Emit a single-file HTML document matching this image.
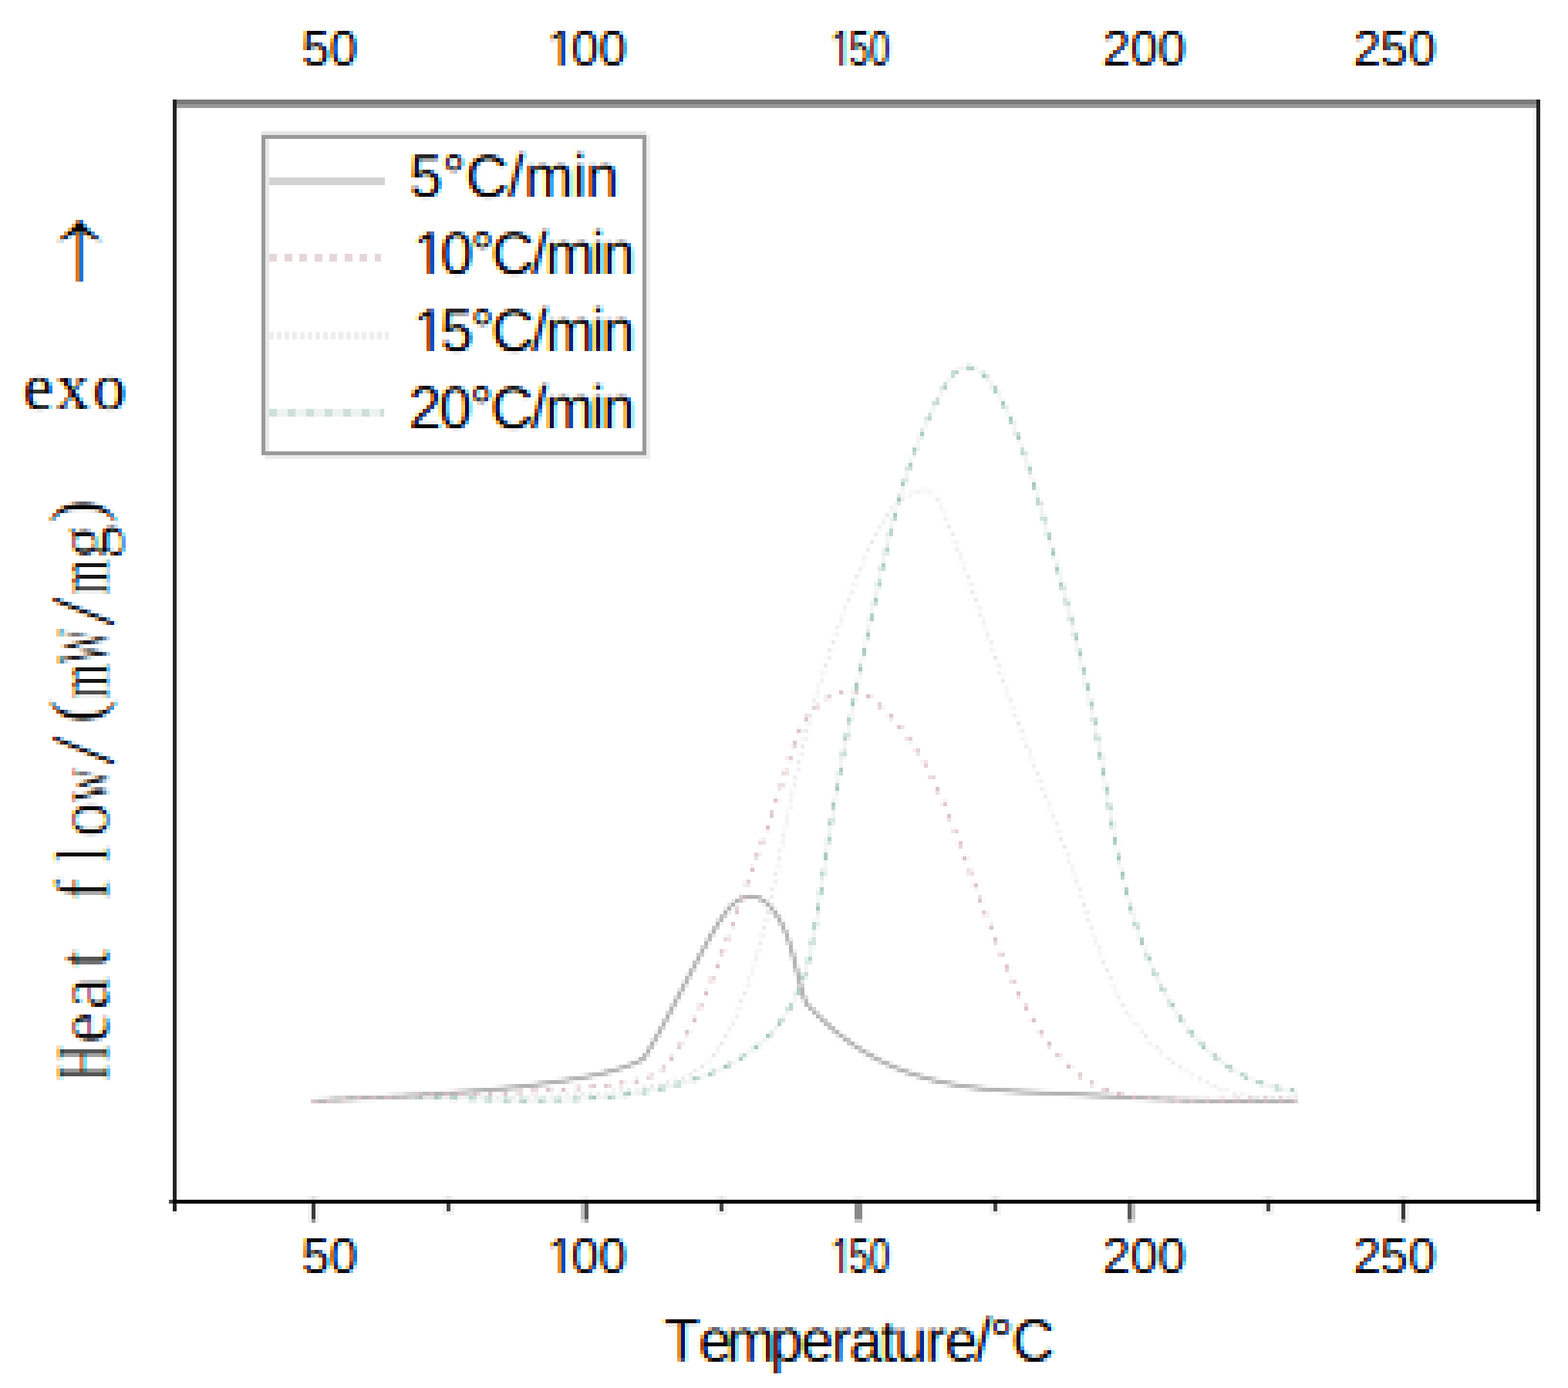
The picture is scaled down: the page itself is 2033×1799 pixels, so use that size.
<!DOCTYPE html>
<html lang="en">
<head>
<meta charset="utf-8">
<title>Heat flow vs temperature</title>
<style>
html,body{margin:0;padding:0;background:#fff;overflow:hidden;}
body{width:2033px;height:1799px;position:relative;}
svg{display:block;position:absolute;left:0;top:0;}
#hard,#curv,#text{position:absolute;left:0;top:0;width:2033px;height:1799px;overflow:hidden;}
#curv{filter:url(#pix);}
#text{filter:url(#pixct);mix-blend-mode:multiply;}
text{font-family:"Liberation Sans",sans-serif;fill:#000;}
.c{fill:none;stroke-linejoin:round;}
.ylab{position:absolute;left:58px;top:1400px;height:98px;white-space:pre;transform-origin:0 0;transform:rotate(-90deg);font:98px/98px "Liberation Serif",serif;color:#000;-webkit-text-stroke:1px #fff;}
.ylab span{display:inline-block;white-space:pre;}
.exo{position:absolute;left:30px;top:451px;font:87px/100px "Liberation Serif",serif;color:#000;white-space:nowrap;letter-spacing:4px;}
.arr{position:absolute;left:53px;top:208px;width:100px;height:240px;text-align:center;font:200px/240px "Liberation Serif","Noto Serif CJK SC",serif;color:#000;-webkit-text-stroke:4px #fff;transform:scaleX(1.24);clip-path:inset(0 0 83px 0);}
</style>
</head>
<body>
<svg width="0" height="0" aria-hidden="true">
<defs>
<filter id="pix" x="0" y="0" width="2033" height="1799" filterUnits="userSpaceOnUse" primitiveUnits="userSpaceOnUse" color-interpolation-filters="sRGB">
<feGaussianBlur in="SourceGraphic" stdDeviation="1.0" result="b"/>
<feFlood x="0" y="2" width="1" height="1" flood-color="#000" result="f"/>
<feComposite in="f" in2="f" operator="over" x="-2" y="0" width="5" height="5" result="c"/>
<feTile in="c" x="0" y="0" width="2033" height="1799" result="t"/>
<feComposite in="b" in2="t" operator="in" result="s"/>
<feMorphology in="s" operator="dilate" radius="2"/>
</filter>
<filter id="pixct" x="-20" y="-20" width="2073" height="1839" filterUnits="userSpaceOnUse" primitiveUnits="userSpaceOnUse" color-interpolation-filters="sRGB">
<feColorMatrix in="SourceGraphic" type="matrix" values="1 0 0 -1 1  0 1 0 -1 1  0 0 1 -1 1  0 0 0 0 1" result="w"/>
<feGaussianBlur in="w" stdDeviation="1.7 0.9" result="g"/>
<feOffset in="g" dx="1.67" dy="0" result="go"/>
<feColorMatrix in="go" type="matrix" values="1 0 0 0 0  0 0 0 0 0  0 0 0 0 0  0 0 0 0 1" result="r"/>
<feColorMatrix in="g" type="matrix" values="0 0 0 0 0  0 1 0 0 0  0 0 0 0 0  0 0 0 0 1" result="gg"/>
<feOffset in="g" dx="-1.67" dy="0" result="bo"/>
<feColorMatrix in="bo" type="matrix" values="0 0 0 0 0  0 0 0 0 0  0 0 1 0 0  0 0 0 0 1" result="bb"/>
<feComposite in="r" in2="gg" operator="arithmetic" k1="0" k2="1" k3="1" k4="0" result="rg"/>
<feComposite in="rg" in2="bb" operator="arithmetic" k1="0" k2="1" k3="1" k4="0" result="rgb"/>
<feFlood x="0" y="2" width="1" height="1" flood-color="#000" result="f"/>
<feComposite in="f" in2="f" operator="over" x="-2" y="0" width="5" height="5" result="c"/>
<feTile in="c" x="-20" y="-20" width="2073" height="1839" result="t"/>
<feComposite in="rgb" in2="t" operator="in" result="s"/>
<feMorphology in="s" operator="dilate" radius="2"/>
</filter>
</defs>
</svg>
<div id="hard">
<svg width="2033" height="1799" viewBox="0 0 2033 1799" shape-rendering="crispEdges">
<g id="frame">
<rect x="229" y="139" width="5" height="1416" fill="#f7f7f7"/>
<rect x="1987" y="139" width="5" height="1416" fill="#f7f7f7"/>
<rect x="224" y="129" width="1773" height="5.5" fill="#7a7a7a"/>
<rect x="224" y="134.5" width="1773" height="5" fill="#999"/>
<rect x="224" y="129" width="5" height="1441" fill="#222"/>
<rect x="224" y="1570" width="5" height="5" fill="#eee"/>
<rect x="1992" y="129" width="5" height="1441" fill="#222"/>
<rect x="1992" y="1570" width="5" height="5" fill="#eee"/>
<rect x="399" y="1550" width="15" height="35" fill="#f2f2f2"/>
<rect x="404" y="1550" width="5" height="5" fill="#e2e2e2"/>
<rect x="574" y="1550" width="15" height="25" fill="#f2f2f2"/>
<rect x="579" y="1550" width="5" height="5" fill="#e6e6e6"/>
<rect x="753.3" y="1550" width="5" height="5" fill="#f5f5f5"/>
<rect x="758.2" y="1550" width="5" height="5" fill="#eeeeee"/>
<rect x="928" y="1550" width="15" height="25" fill="#f2f2f2"/>
<rect x="933" y="1550" width="5" height="5" fill="#e6e6e6"/>
<rect x="1108" y="1550" width="10" height="5" fill="#f0f0f0"/>
<rect x="1283" y="1550" width="15" height="25" fill="#f2f2f2"/>
<rect x="1288" y="1550" width="5" height="5" fill="#e6e6e6"/>
<rect x="1462.3" y="1550" width="5" height="5" fill="#eeeeee"/>
<rect x="1467.3" y="1550" width="5" height="5" fill="#f5f5f5"/>
<rect x="1636.5" y="1550" width="15" height="25" fill="#f2f2f2"/>
<rect x="1641.5" y="1550" width="5" height="5" fill="#e6e6e6"/>
<rect x="1812" y="1550" width="15" height="35" fill="#f2f2f2"/>
<rect x="1817" y="1550" width="5" height="5" fill="#e2e2e2"/>
<rect x="219" y="1555" width="5" height="5" fill="#444"/>
<rect x="224" y="1555" width="1773" height="5" fill="#000"/>
<rect x="404" y="1560" width="5" height="20" fill="#3a3a3a"/>
<rect x="404" y="1580" width="5" height="5" fill="#999"/>
<rect x="579" y="1560" width="5" height="10" fill="#454545"/>
<rect x="579" y="1570" width="5" height="5" fill="#eee"/>
<rect x="753.3" y="1560" width="5" height="20" fill="#c0c0c0"/>
<rect x="753.3" y="1580" width="5" height="5" fill="#e0e0e0"/>
<rect x="758.2" y="1560" width="5" height="20" fill="#5a5a5a"/>
<rect x="758.2" y="1580" width="5" height="5" fill="#adadad"/>
<rect x="933" y="1560" width="5" height="10" fill="#454545"/>
<rect x="933" y="1570" width="5" height="5" fill="#eee"/>
<rect x="1108" y="1560" width="10" height="20" fill="#888"/>
<rect x="1108" y="1580" width="10" height="5" fill="#c6c6c6"/>
<rect x="1288" y="1560" width="5" height="10" fill="#454545"/>
<rect x="1288" y="1570" width="5" height="5" fill="#eee"/>
<rect x="1462.3" y="1560" width="5" height="20" fill="#5a5a5a"/>
<rect x="1462.3" y="1580" width="5" height="5" fill="#adadad"/>
<rect x="1467.3" y="1560" width="5" height="20" fill="#c0c0c0"/>
<rect x="1467.3" y="1580" width="5" height="5" fill="#e0e0e0"/>
<rect x="1641.5" y="1560" width="5" height="10" fill="#454545"/>
<rect x="1641.5" y="1570" width="5" height="5" fill="#eee"/>
<rect x="1817" y="1560" width="5" height="20" fill="#3a3a3a"/>
<rect x="1817" y="1580" width="5" height="5" fill="#999"/>
</g>
<g id="legendbox">
<rect x="339" y="170" width="499" height="5" fill="#e6e6e6"/>
<rect x="838" y="175" width="5" height="420" fill="#ececec"/>
<rect x="344" y="590" width="499" height="5" fill="#ececec"/>
<rect x="344" y="180" width="5" height="405" fill="#e8e8e8"/>
<rect x="339" y="175" width="499" height="5" fill="#9a9a9a"/>
<rect x="339" y="585" width="499" height="5" fill="#9a9a9a"/>
<rect x="339" y="175" width="5" height="415" fill="#9a9a9a"/>
<rect x="833" y="175" width="5" height="415" fill="#9a9a9a"/>
<rect x="349" y="229.5" width="150" height="10" fill="#d3d3d3"/>
<line x1="349" y1="334" x2="494" y2="334" stroke="#e6d6d9" stroke-width="10" stroke-dasharray="10 9.5"/>
<line x1="349" y1="434.5" x2="504" y2="434.5" stroke="#eeeef0" stroke-width="10" stroke-dasharray="6 4"/>
<line x1="349" y1="535" x2="498" y2="535" stroke="#edf3f0" stroke-width="10"/>
<line x1="349" y1="535" x2="498" y2="535" stroke="#cfe0d9" stroke-width="10" stroke-dasharray="10 14"/>
</g>
</svg>
</div>
<div id="curv">
<svg width="2033" height="1799" viewBox="0 0 2033 1799">
<g id="curves">
<path class="c" d="M404.6,1427.5 L412.6,1426.8 L420.6,1426.1 L428.6,1425.5 L436.6,1424.9 L444.5,1424.4 L452.5,1423.9 L460.3,1423.5 L468.2,1423.1 L476.1,1422.8 L483.9,1422.5 L491.7,1422.2 L499.5,1422.0 L507.3,1421.8 L515.1,1421.7 L522.8,1421.6 L530.6,1421.5 L538.3,1421.4 L546.0,1421.4 L553.7,1421.3 L561.4,1421.3 L569.1,1421.3 L576.8,1421.3 L584.5,1421.3 L592.2,1421.4 L599.8,1421.4 L607.5,1421.4 L615.2,1421.4 L622.8,1421.4 L630.5,1421.4 L638.2,1421.4 L645.8,1421.4 L653.5,1421.4 L661.2,1421.3 L668.8,1421.2 L676.5,1421.1 L684.2,1421.0 L691.9,1420.9 L699.6,1420.7 L707.3,1420.5 L715.1,1420.2 L722.8,1419.9 L730.5,1419.5 L738.3,1419.2 L746.1,1418.7 L753.9,1418.2 L761.7,1417.7 L769.5,1417.1 L777.4,1416.4 L785.2,1415.7 L793.1,1414.9 L801.0,1414.1 L809.0,1413.2 L816.9,1412.2 L824.9,1411.1 L832.9,1410.0 L840.9,1408.7 L848.7,1407.2 L856.5,1405.6 L864.2,1403.7 L871.7,1401.6 L879.0,1399.2 L886.1,1396.4 L892.9,1393.3 L899.4,1389.8 L905.6,1385.8 L911.4,1381.4 L916.9,1376.6 L922.0,1371.3 L926.8,1365.7 L931.3,1359.7 L935.5,1353.4 L939.5,1346.9 L943.3,1340.1 L946.8,1333.1 L950.2,1325.9 L953.4,1318.7 L956.4,1311.3 L959.3,1303.8 L962.1,1296.3 L964.9,1288.8 L967.5,1281.3 L970.1,1273.8 L972.5,1266.3 L974.9,1258.7 L977.3,1251.2 L979.5,1243.6 L981.7,1236.1 L983.8,1228.5 L985.9,1220.9 L987.9,1213.3 L989.8,1205.7 L991.7,1198.2 L993.5,1190.6 L995.3,1183.0 L997.1,1175.3 L998.8,1167.7 L1000.5,1160.1 L1002.1,1152.5 L1003.8,1144.9 L1005.3,1137.3 L1006.9,1129.7 L1008.5,1122.1 L1010.0,1114.4 L1011.5,1106.8 L1013.0,1099.2 L1014.5,1091.6 L1016.0,1084.0 L1017.5,1076.4 L1019.0,1068.8 L1020.5,1061.2 L1022.0,1053.6 L1023.5,1046.0 L1025.0,1038.5 L1026.6,1030.9 L1028.2,1023.3 L1029.8,1015.8 L1031.4,1008.2 L1033.0,1000.7 L1034.7,993.2 L1036.5,985.6 L1038.2,978.1 L1040.0,970.6 L1041.9,963.1 L1043.7,955.7 L1045.7,948.2 L1047.6,940.7 L1049.6,933.3 L1051.6,925.8 L1053.7,918.4 L1055.8,910.9 L1057.9,903.5 L1060.1,896.1 L1062.3,888.7 L1064.5,881.3 L1066.8,873.9 L1069.1,866.5 L1071.5,859.1 L1073.9,851.7 L1076.3,844.3 L1078.8,836.9 L1081.3,829.6 L1083.8,822.2 L1086.4,814.8 L1089.0,807.4 L1091.7,800.1 L1094.4,792.7 L1097.1,785.4 L1099.8,778.0 L1102.6,770.6 L1105.5,763.3 L1108.3,755.9 L1111.2,748.6 L1114.2,741.2 L1117.1,733.9 L1120.1,726.5 L1123.2,719.1 L1126.3,711.8 L1129.5,704.5 L1132.8,697.4 L1136.3,690.3 L1139.9,683.5 L1143.8,676.9 L1148.0,670.5 L1152.4,664.4 L1157.1,658.7 L1162.3,653.3 L1167.8,648.3 L1173.7,643.9 L1180.1,639.9 L1186.7,636.9 L1193.4,635.4 L1199.9,635.8 L1205.9,638.5 L1211.2,643.0 L1215.6,648.7 L1219.4,655.4 L1222.7,662.7 L1225.8,670.2 L1228.8,677.8 L1231.8,685.3 L1234.7,692.8 L1237.6,700.3 L1240.4,707.8 L1243.2,715.3 L1245.9,722.8 L1248.6,730.3 L1251.3,737.7 L1254.0,745.2 L1256.6,752.6 L1259.2,760.0 L1261.8,767.4 L1264.3,774.8 L1266.9,782.2 L1269.4,789.6 L1271.9,797.0 L1274.4,804.4 L1276.9,811.8 L1279.3,819.1 L1281.8,826.5 L1284.3,833.8 L1286.7,841.1 L1289.2,848.5 L1291.7,855.8 L1294.1,863.1 L1296.6,870.4 L1299.1,877.7 L1301.6,885.0 L1304.2,892.2 L1306.7,899.5 L1309.2,906.8 L1311.8,914.1 L1314.4,921.3 L1317.1,928.6 L1319.7,935.8 L1322.4,943.1 L1325.1,950.3 L1327.8,957.6 L1330.5,964.8 L1333.2,972.0 L1335.9,979.3 L1338.7,986.5 L1341.4,993.8 L1344.2,1001.0 L1346.9,1008.3 L1349.7,1015.5 L1352.4,1022.8 L1355.2,1030.1 L1357.9,1037.3 L1360.7,1044.6 L1363.4,1051.9 L1366.1,1059.2 L1368.8,1066.5 L1371.5,1073.8 L1374.2,1081.2 L1376.9,1088.5 L1379.6,1095.8 L1382.2,1103.2 L1384.8,1110.6 L1387.4,1118.0 L1389.9,1125.4 L1392.5,1132.8 L1395.0,1140.3 L1397.5,1147.7 L1399.9,1155.2 L1402.3,1162.7 L1404.7,1170.2 L1407.1,1177.7 L1409.5,1185.2 L1411.9,1192.7 L1414.3,1200.2 L1416.7,1207.6 L1419.2,1215.1 L1421.8,1222.5 L1424.4,1229.9 L1427.0,1237.2 L1429.7,1244.5 L1432.6,1251.7 L1435.5,1258.9 L1438.5,1266.0 L1441.6,1273.1 L1444.9,1280.0 L1448.3,1286.9 L1451.8,1293.7 L1455.5,1300.4 L1459.3,1307.0 L1463.3,1313.5 L1467.5,1319.9 L1471.9,1326.2 L1476.5,1332.3 L1481.3,1338.4 L1486.2,1344.3 L1491.4,1350.0 L1496.7,1355.6 L1502.2,1361.0 L1507.9,1366.3 L1513.7,1371.3 L1519.7,1376.2 L1525.8,1380.9 L1532.1,1385.4 L1538.6,1389.6 L1545.2,1393.7 L1551.9,1397.5 L1558.7,1401.1 L1565.7,1404.4 L1572.8,1407.5 L1580.0,1410.3 L1587.3,1412.8 L1594.7,1415.1 L1602.2,1417.1 L1609.9,1418.7 L1617.6,1420.1 L1625.4,1421.2 L1633.2,1421.9 L1641.2,1422.3 L1649.2,1422.4 L1657.3,1422.1 L1665.5,1421.4 L1673.7,1420.4 L1681.9,1419.1" stroke="#e8e9ed" stroke-width="4.5" stroke-dasharray="5 5"/>
<path class="c" d="M404.7,1427.8 L413.1,1426.9 L421.6,1426.0 L430.1,1425.3 L438.7,1424.6 L447.2,1424.1 L455.8,1423.6 L464.4,1423.2 L473.1,1422.9 L481.8,1422.7 L490.5,1422.6 L499.2,1422.5 L507.9,1422.4 L516.7,1422.4 L525.5,1422.5 L534.2,1422.6 L543.1,1422.7 L551.9,1422.9 L560.7,1423.1 L569.6,1423.3 L578.4,1423.6 L587.3,1423.8 L596.1,1424.1 L605.0,1424.3 L613.9,1424.6 L622.8,1424.8 L631.7,1425.1 L640.6,1425.3 L649.5,1425.5 L658.3,1425.7 L667.2,1425.8 L676.1,1425.9 L685.0,1426.0 L693.8,1426.0 L702.7,1425.9 L711.6,1425.8 L720.4,1425.6 L729.2,1425.4 L738.0,1425.1 L746.8,1424.7 L755.6,1424.3 L764.4,1423.7 L773.1,1423.1 L781.9,1422.3 L790.6,1421.5 L799.2,1420.5 L807.9,1419.4 L816.5,1418.2 L825.1,1416.9 L833.7,1415.5 L842.3,1413.9 L850.8,1412.2 L859.3,1410.3 L867.8,1408.3 L876.2,1406.2 L884.6,1403.9 L892.9,1401.4 L901.2,1398.7 L909.4,1395.9 L917.5,1392.8 L925.5,1389.5 L933.4,1386.0 L941.2,1382.2 L948.9,1378.2 L956.3,1373.9 L963.6,1369.3 L970.8,1364.4 L977.7,1359.2 L984.4,1353.7 L990.9,1347.9 L997.2,1341.7 L1003.2,1335.1 L1008.9,1328.3 L1014.4,1321.1 L1019.5,1313.7 L1024.3,1306.0 L1028.7,1298.2 L1032.8,1290.2 L1036.4,1282.2 L1039.7,1274.0 L1042.6,1265.8 L1045.1,1257.5 L1047.3,1249.2 L1049.3,1240.8 L1051.1,1232.4 L1052.7,1224.0 L1054.3,1215.5 L1055.7,1207.0 L1057.2,1198.5 L1058.6,1189.9 L1060.0,1181.3 L1061.3,1172.7 L1062.6,1164.1 L1064.0,1155.5 L1065.2,1146.9 L1066.5,1138.2 L1067.8,1129.6 L1069.1,1120.9 L1070.4,1112.2 L1071.7,1103.6 L1073.0,1094.9 L1074.4,1086.2 L1075.7,1077.5 L1077.1,1068.9 L1078.5,1060.2 L1079.9,1051.5 L1081.4,1042.9 L1082.9,1034.2 L1084.4,1025.6 L1085.9,1016.9 L1087.5,1008.3 L1089.1,999.7 L1090.7,991.0 L1092.3,982.4 L1093.9,973.8 L1095.6,965.2 L1097.2,956.6 L1098.9,948.0 L1100.6,939.3 L1102.4,930.7 L1104.1,922.2 L1105.8,913.6 L1107.6,905.0 L1109.4,896.4 L1111.1,887.8 L1112.9,879.2 L1114.7,870.7 L1116.5,862.1 L1118.3,853.5 L1120.2,845.0 L1122.0,836.4 L1123.8,827.9 L1125.7,819.3 L1127.5,810.8 L1129.3,802.2 L1131.2,793.7 L1133.0,785.1 L1134.8,776.6 L1136.7,768.1 L1138.5,759.5 L1140.4,751.0 L1142.2,742.5 L1144.1,734.0 L1146.0,725.5 L1148.0,717.0 L1149.9,708.5 L1151.9,700.0 L1154.0,691.5 L1156.1,683.1 L1158.2,674.6 L1160.4,666.2 L1162.7,657.8 L1165.0,649.4 L1167.5,641.0 L1170.0,632.6 L1172.5,624.2 L1175.2,615.9 L1178.0,607.5 L1180.8,599.2 L1183.8,590.9 L1186.9,582.6 L1190.0,574.4 L1193.3,566.1 L1196.8,557.9 L1200.3,549.7 L1204.0,541.5 L1207.9,533.3 L1211.8,525.2 L1216.0,517.1 L1220.2,509.0 L1224.7,501.0 L1229.4,493.4 L1234.4,486.7 L1239.8,481.2 L1245.8,477.4 L1252.2,475.7 L1259.1,476.2 L1265.9,478.7 L1272.4,483.1 L1278.6,489.1 L1284.5,496.2 L1289.9,504.1 L1294.9,512.4 L1299.4,520.6 L1303.6,528.8 L1307.4,536.9 L1311.1,545.0 L1314.6,553.2 L1317.9,561.3 L1321.1,569.5 L1324.2,577.7 L1327.1,586.0 L1329.9,594.2 L1332.7,602.5 L1335.3,610.8 L1337.9,619.1 L1340.4,627.5 L1342.8,635.8 L1345.2,644.2 L1347.6,652.5 L1350.0,660.9 L1352.3,669.3 L1354.7,677.7 L1357.0,686.1 L1359.3,694.5 L1361.7,702.9 L1364.0,711.3 L1366.3,719.7 L1368.7,728.2 L1371.0,736.6 L1373.3,745.1 L1375.6,753.5 L1377.8,762.0 L1380.1,770.4 L1382.3,778.9 L1384.6,787.4 L1386.8,795.9 L1389.0,804.4 L1391.1,812.9 L1393.3,821.4 L1395.4,829.9 L1397.5,838.5 L1399.5,847.0 L1401.6,855.5 L1403.6,864.1 L1405.6,872.6 L1407.5,881.2 L1409.4,889.8 L1411.3,898.3 L1413.1,906.9 L1414.9,915.5 L1416.7,924.1 L1418.4,932.7 L1420.0,941.3 L1421.7,949.9 L1423.2,958.6 L1424.8,967.2 L1426.3,975.8 L1427.8,984.5 L1429.3,993.1 L1430.7,1001.7 L1432.2,1010.4 L1433.6,1019.0 L1435.1,1027.7 L1436.5,1036.3 L1438.0,1044.9 L1439.5,1053.5 L1441.0,1062.2 L1442.5,1070.8 L1444.1,1079.4 L1445.7,1087.9 L1447.4,1096.5 L1449.1,1105.1 L1450.9,1113.6 L1452.7,1122.2 L1454.6,1130.7 L1456.5,1139.2 L1458.6,1147.6 L1460.7,1156.1 L1462.9,1164.5 L1465.2,1173.0 L1467.6,1181.3 L1470.1,1189.7 L1472.7,1198.1 L1475.5,1206.4 L1478.3,1214.7 L1481.3,1222.9 L1484.4,1231.1 L1487.7,1239.3 L1491.0,1247.5 L1494.6,1255.6 L1498.3,1263.7 L1502.1,1271.7 L1506.1,1279.6 L1510.3,1287.4 L1514.6,1295.1 L1519.1,1302.6 L1523.8,1310.1 L1528.6,1317.4 L1533.6,1324.5 L1538.9,1331.4 L1544.3,1338.2 L1549.9,1344.8 L1555.7,1351.1 L1561.7,1357.3 L1567.9,1363.2 L1574.3,1368.8 L1581.0,1374.2 L1587.8,1379.3 L1594.9,1384.2 L1602.2,1388.7 L1609.8,1392.9 L1617.6,1396.8 L1625.6,1400.4 L1633.9,1403.6 L1642.4,1406.4 L1651.1,1408.9 L1660.2,1411.0 L1669.5,1412.6 L1679.0,1413.9" stroke="#f1f4f3" stroke-width="5"/>
<path class="c" d="M404.7,1427.8 L413.1,1426.9 L421.6,1426.0 L430.1,1425.3 L438.7,1424.6 L447.2,1424.1 L455.8,1423.6 L464.4,1423.2 L473.1,1422.9 L481.8,1422.7 L490.5,1422.6 L499.2,1422.5 L507.9,1422.4 L516.7,1422.4 L525.5,1422.5 L534.2,1422.6 L543.1,1422.7 L551.9,1422.9 L560.7,1423.1 L569.6,1423.3 L578.4,1423.6 L587.3,1423.8 L596.1,1424.1 L605.0,1424.3 L613.9,1424.6 L622.8,1424.8 L631.7,1425.1 L640.6,1425.3 L649.5,1425.5 L658.3,1425.7 L667.2,1425.8 L676.1,1425.9 L685.0,1426.0 L693.8,1426.0 L702.7,1425.9 L711.6,1425.8 L720.4,1425.6 L729.2,1425.4 L738.0,1425.1 L746.8,1424.7 L755.6,1424.3 L764.4,1423.7 L773.1,1423.1 L781.9,1422.3 L790.6,1421.5 L799.2,1420.5 L807.9,1419.4 L816.5,1418.2 L825.1,1416.9 L833.7,1415.5 L842.3,1413.9 L850.8,1412.2 L859.3,1410.3 L867.8,1408.3 L876.2,1406.2 L884.6,1403.9 L892.9,1401.4 L901.2,1398.7 L909.4,1395.9 L917.5,1392.8 L925.5,1389.5 L933.4,1386.0 L941.2,1382.2 L948.9,1378.2 L956.3,1373.9 L963.6,1369.3 L970.8,1364.4 L977.7,1359.2 L984.4,1353.7 L990.9,1347.9 L997.2,1341.7 L1003.2,1335.1 L1008.9,1328.3 L1014.4,1321.1 L1019.5,1313.7 L1024.3,1306.0 L1028.7,1298.2 L1032.8,1290.2 L1036.4,1282.2 L1039.7,1274.0 L1042.6,1265.8 L1045.1,1257.5 L1047.3,1249.2 L1049.3,1240.8 L1051.1,1232.4 L1052.7,1224.0 L1054.3,1215.5 L1055.7,1207.0 L1057.2,1198.5 L1058.6,1189.9 L1060.0,1181.3 L1061.3,1172.7 L1062.6,1164.1 L1064.0,1155.5 L1065.2,1146.9 L1066.5,1138.2 L1067.8,1129.6 L1069.1,1120.9 L1070.4,1112.2 L1071.7,1103.6 L1073.0,1094.9 L1074.4,1086.2 L1075.7,1077.5 L1077.1,1068.9 L1078.5,1060.2 L1079.9,1051.5 L1081.4,1042.9 L1082.9,1034.2 L1084.4,1025.6 L1085.9,1016.9 L1087.5,1008.3 L1089.1,999.7 L1090.7,991.0 L1092.3,982.4 L1093.9,973.8 L1095.6,965.2 L1097.2,956.6 L1098.9,948.0 L1100.6,939.3 L1102.4,930.7 L1104.1,922.2 L1105.8,913.6 L1107.6,905.0 L1109.4,896.4 L1111.1,887.8 L1112.9,879.2 L1114.7,870.7 L1116.5,862.1 L1118.3,853.5 L1120.2,845.0 L1122.0,836.4 L1123.8,827.9 L1125.7,819.3 L1127.5,810.8 L1129.3,802.2 L1131.2,793.7 L1133.0,785.1 L1134.8,776.6 L1136.7,768.1 L1138.5,759.5 L1140.4,751.0 L1142.2,742.5 L1144.1,734.0 L1146.0,725.5 L1148.0,717.0 L1149.9,708.5 L1151.9,700.0 L1154.0,691.5 L1156.1,683.1 L1158.2,674.6 L1160.4,666.2 L1162.7,657.8 L1165.0,649.4 L1167.5,641.0 L1170.0,632.6 L1172.5,624.2 L1175.2,615.9 L1178.0,607.5 L1180.8,599.2 L1183.8,590.9 L1186.9,582.6 L1190.0,574.4 L1193.3,566.1 L1196.8,557.9 L1200.3,549.7 L1204.0,541.5 L1207.9,533.3 L1211.8,525.2 L1216.0,517.1 L1220.2,509.0 L1224.7,501.0 L1229.4,493.4 L1234.4,486.7 L1239.8,481.2 L1245.8,477.4 L1252.2,475.7 L1259.1,476.2 L1265.9,478.7 L1272.4,483.1 L1278.6,489.1 L1284.5,496.2 L1289.9,504.1 L1294.9,512.4 L1299.4,520.6 L1303.6,528.8 L1307.4,536.9 L1311.1,545.0 L1314.6,553.2 L1317.9,561.3 L1321.1,569.5 L1324.2,577.7 L1327.1,586.0 L1329.9,594.2 L1332.7,602.5 L1335.3,610.8 L1337.9,619.1 L1340.4,627.5 L1342.8,635.8 L1345.2,644.2 L1347.6,652.5 L1350.0,660.9 L1352.3,669.3 L1354.7,677.7 L1357.0,686.1 L1359.3,694.5 L1361.7,702.9 L1364.0,711.3 L1366.3,719.7 L1368.7,728.2 L1371.0,736.6 L1373.3,745.1 L1375.6,753.5 L1377.8,762.0 L1380.1,770.4 L1382.3,778.9 L1384.6,787.4 L1386.8,795.9 L1389.0,804.4 L1391.1,812.9 L1393.3,821.4 L1395.4,829.9 L1397.5,838.5 L1399.5,847.0 L1401.6,855.5 L1403.6,864.1 L1405.6,872.6 L1407.5,881.2 L1409.4,889.8 L1411.3,898.3 L1413.1,906.9 L1414.9,915.5 L1416.7,924.1 L1418.4,932.7 L1420.0,941.3 L1421.7,949.9 L1423.2,958.6 L1424.8,967.2 L1426.3,975.8 L1427.8,984.5 L1429.3,993.1 L1430.7,1001.7 L1432.2,1010.4 L1433.6,1019.0 L1435.1,1027.7 L1436.5,1036.3 L1438.0,1044.9 L1439.5,1053.5 L1441.0,1062.2 L1442.5,1070.8 L1444.1,1079.4 L1445.7,1087.9 L1447.4,1096.5 L1449.1,1105.1 L1450.9,1113.6 L1452.7,1122.2 L1454.6,1130.7 L1456.5,1139.2 L1458.6,1147.6 L1460.7,1156.1 L1462.9,1164.5 L1465.2,1173.0 L1467.6,1181.3 L1470.1,1189.7 L1472.7,1198.1 L1475.5,1206.4 L1478.3,1214.7 L1481.3,1222.9 L1484.4,1231.1 L1487.7,1239.3 L1491.0,1247.5 L1494.6,1255.6 L1498.3,1263.7 L1502.1,1271.7 L1506.1,1279.6 L1510.3,1287.4 L1514.6,1295.1 L1519.1,1302.6 L1523.8,1310.1 L1528.6,1317.4 L1533.6,1324.5 L1538.9,1331.4 L1544.3,1338.2 L1549.9,1344.8 L1555.7,1351.1 L1561.7,1357.3 L1567.9,1363.2 L1574.3,1368.8 L1581.0,1374.2 L1587.8,1379.3 L1594.9,1384.2 L1602.2,1388.7 L1609.8,1392.9 L1617.6,1396.8 L1625.6,1400.4 L1633.9,1403.6 L1642.4,1406.4 L1651.1,1408.9 L1660.2,1411.0 L1669.5,1412.6 L1679.0,1413.9" stroke="#a4c8ba" stroke-width="5" stroke-dasharray="9 13.5"/>
<path class="c" d="M404.6,1427.1 L408.6,1427.0 L412.6,1426.7 L416.6,1426.5 L420.6,1426.3 L424.5,1426.0 L428.5,1425.8 L432.5,1425.5 L436.5,1425.3 L440.5,1425.1 L444.5,1424.9 L448.5,1424.6 L452.5,1424.4 L456.4,1424.2 L460.4,1424.0 L464.4,1423.7 L468.4,1423.5 L472.4,1423.3 L476.4,1423.1 L480.4,1422.9 L484.4,1422.7 L488.4,1422.4 L492.4,1422.2 L496.4,1422.0 L500.3,1421.8 L504.3,1421.6 L508.3,1421.4 L512.3,1421.1 L516.3,1420.9 L520.3,1420.7 L524.3,1420.5 L528.3,1420.2 L532.3,1420.0 L536.3,1419.8 L540.3,1419.5 L544.3,1419.3 L548.3,1419.1 L552.2,1418.8 L556.2,1418.6 L560.2,1418.3 L564.2,1418.1 L568.2,1417.8 L572.2,1417.5 L576.2,1417.3 L580.2,1417.0 L584.2,1416.7 L588.2,1416.4 L592.1,1416.1 L596.1,1415.8 L600.1,1415.5 L604.1,1415.2 L608.1,1414.9 L612.1,1414.6 L616.1,1414.2 L620.0,1413.9 L624.0,1413.6 L628.0,1413.2 L632.0,1412.8 L636.0,1412.5 L639.9,1412.1 L643.9,1411.7 L647.9,1411.3 L651.9,1410.9 L655.8,1410.5 L659.8,1410.1 L663.8,1409.7 L667.8,1409.2 L671.7,1408.8 L675.7,1408.3 L679.7,1407.8 L683.6,1407.4 L687.6,1406.9 L691.6,1406.4 L695.5,1405.9 L699.5,1405.3 L703.4,1404.8 L707.4,1404.2 L711.4,1403.7 L715.3,1403.1 L719.3,1402.5 L723.2,1401.9 L727.2,1401.3 L731.1,1400.7 L735.1,1400.1 L739.0,1399.4 L743.0,1398.8 L746.9,1398.1 L750.9,1397.4 L754.8,1396.7 L758.7,1395.9 L762.7,1395.2 L766.6,1394.4 L770.5,1393.6 L774.4,1392.8 L778.3,1391.9 L782.2,1391.0 L786.1,1390.0 L789.9,1389.0 L793.8,1388.0 L797.6,1386.9 L801.4,1385.7 L805.2,1384.5 L809.0,1383.2 L812.7,1381.9 L816.5,1380.5 L820.2,1379.0 L823.8,1377.4 L827.5,1375.8 L831.1,1374.1 L834.4,1371.8 L836.6,1368.6 L838.7,1365.3 L840.7,1362.0 L842.7,1358.7 L844.6,1355.3 L846.6,1352.0 L848.5,1348.6 L850.5,1345.2 L852.4,1341.9 L854.3,1338.5 L856.2,1335.1 L858.0,1331.7 L859.9,1328.3 L861.8,1324.9 L863.6,1321.5 L865.4,1318.1 L867.3,1314.6 L869.1,1311.2 L870.9,1307.8 L872.7,1304.4 L874.5,1300.9 L876.3,1297.5 L878.1,1294.0 L879.9,1290.6 L881.7,1287.2 L883.5,1283.7 L885.3,1280.3 L887.1,1276.9 L888.9,1273.4 L890.7,1270.0 L892.5,1266.5 L894.3,1263.1 L896.1,1259.7 L897.9,1256.2 L899.7,1252.8 L901.5,1249.4 L903.3,1246.0 L905.2,1242.6 L907.0,1239.2 L908.9,1235.8 L910.7,1232.4 L912.6,1229.0 L914.5,1225.6 L916.3,1222.2 L918.3,1218.9 L920.2,1215.5 L922.1,1212.2 L924.0,1208.8 L926.0,1205.5 L928.0,1202.1 L930.0,1198.8 L932.1,1195.5 L934.3,1192.2 L936.5,1188.9 L938.8,1185.6 L941.2,1182.3 L943.7,1179.1 L946.3,1176.1 L949.1,1173.2 L952.1,1170.6 L955.2,1168.2 L958.6,1166.2 L962.0,1164.6 L965.5,1163.3 L969.1,1162.4 L972.7,1162.0 L976.2,1162.0 L979.7,1162.5 L983.1,1163.6 L986.4,1165.1 L989.5,1167.0 L992.6,1169.3 L995.5,1171.9 L998.3,1174.8 L1000.9,1177.8 L1003.5,1181.1 L1005.8,1184.4 L1008.1,1187.8 L1010.2,1191.3 L1012.1,1194.7 L1013.9,1198.3 L1015.7,1201.8 L1017.3,1205.4 L1018.8,1209.0 L1020.2,1212.6 L1021.5,1216.2 L1022.7,1219.9 L1023.9,1223.6 L1025.0,1227.2 L1026.1,1231.0 L1027.2,1234.7 L1028.2,1238.4 L1029.1,1242.1 L1030.1,1245.9 L1031.0,1249.6 L1031.9,1253.4 L1032.9,1257.1 L1033.8,1260.9 L1034.7,1264.6 L1035.7,1268.4 L1036.6,1272.1 L1037.6,1275.9 L1038.6,1279.6 L1039.7,1283.3 L1040.8,1287.0 L1041.9,1290.7 L1043.1,1294.4 L1044.4,1298.1 L1045.9,1301.7 L1050.3,1305.7 L1054.6,1310.1 L1058.9,1314.6 L1063.3,1318.9 L1067.8,1323.1 L1072.4,1327.3 L1077.0,1331.4 L1081.8,1335.4 L1086.5,1339.3 L1091.4,1343.1 L1096.3,1346.8 L1101.2,1350.4 L1106.3,1353.9 L1111.3,1357.4 L1116.5,1360.7 L1121.7,1363.9 L1126.9,1367.0 L1132.3,1370.0 L1137.6,1372.9 L1143.1,1375.6 L1148.5,1378.3 L1154.0,1380.8 L1159.6,1383.2 L1165.2,1385.5 L1170.9,1387.7 L1176.6,1389.8 L1182.3,1391.8 L1188.1,1393.7 L1193.9,1395.5 L1199.8,1397.2 L1205.6,1398.8 L1211.5,1400.3 L1217.5,1401.7 L1223.4,1403.0 L1229.4,1404.3 L1235.4,1405.4 L1241.4,1406.5 L1247.4,1407.5 L1253.5,1408.4 L1259.5,1409.3 L1265.6,1410.1 L1271.7,1410.8 L1277.7,1411.5 L1283.8,1412.1 L1289.9,1412.6 L1296.1,1413.1 L1302.2,1413.6 L1308.3,1414.1 L1314.4,1414.5 L1320.6,1414.8 L1326.7,1415.2 L1332.8,1415.5 L1339.0,1415.8 L1345.1,1416.1 L1351.3,1416.4 L1357.4,1416.7 L1363.5,1416.9 L1369.7,1417.2 L1375.8,1417.5 L1381.9,1417.8 L1388.1,1418.1 L1394.2,1418.4 L1400.3,1418.8 L1406.4,1419.1 L1412.5,1419.4 L1418.6,1419.8 L1424.7,1420.1 L1430.8,1420.5 L1436.9,1420.8 L1443.0,1421.2 L1449.1,1421.6 L1455.2,1421.9 L1461.3,1422.3 L1467.4,1422.6 L1473.5,1422.9 L1479.6,1423.3 L1485.7,1423.6 L1491.8,1423.9 L1497.9,1424.2 L1504.0,1424.5 L1510.1,1424.8 L1516.1,1425.0 L1522.3,1425.3 L1528.4,1425.5 L1534.5,1425.7 L1540.6,1425.9 L1546.7,1426.1 L1552.8,1426.3 L1558.9,1426.4 L1565.0,1426.5 L1571.1,1426.7 L1577.2,1426.8 L1583.4,1426.9 L1589.5,1427.0 L1595.6,1427.1 L1601.7,1427.1 L1607.8,1427.2 L1614.0,1427.2 L1620.1,1427.2 L1626.2,1427.3 L1632.3,1427.3 L1638.5,1427.3 L1644.6,1427.2 L1650.7,1427.2 L1656.8,1427.2 L1663.0,1427.1 L1669.1,1427.1 L1675.2,1427.0 L1681.3,1427.1" stroke="#b2b2b2" stroke-width="5.5"/>
<path class="c" d="M404.6,1427.6 L411.0,1427.0 L417.4,1426.5 L423.7,1426.1 L430.1,1425.6 L436.5,1425.2 L442.9,1424.8 L449.2,1424.4 L455.6,1424.0 L462.0,1423.6 L468.3,1423.3 L474.7,1422.9 L481.1,1422.6 L487.5,1422.3 L493.8,1422.0 L500.2,1421.8 L506.6,1421.5 L512.9,1421.2 L519.3,1421.0 L525.7,1420.7 L532.0,1420.5 L538.4,1420.3 L544.8,1420.1 L551.1,1419.8 L557.5,1419.6 L563.9,1419.4 L570.3,1419.2 L576.6,1419.0 L583.0,1418.8 L589.4,1418.6 L595.7,1418.4 L602.1,1418.2 L608.5,1417.9 L614.9,1417.7 L621.2,1417.5 L627.6,1417.2 L634.0,1417.0 L640.3,1416.8 L646.7,1416.5 L653.1,1416.2 L659.5,1415.9 L665.8,1415.6 L672.2,1415.3 L678.6,1415.0 L685.0,1414.7 L691.4,1414.3 L697.7,1414.0 L704.1,1413.6 L710.5,1413.2 L716.9,1412.7 L723.3,1412.3 L729.7,1411.8 L736.1,1411.3 L742.4,1410.8 L748.8,1410.3 L755.2,1409.7 L761.6,1409.2 L768.0,1408.5 L774.4,1407.9 L780.8,1407.2 L787.2,1406.5 L793.6,1405.8 L800.0,1405.1 L806.4,1404.3 L812.8,1403.4 L819.0,1402.3 L825.2,1401.0 L831.2,1399.5 L837.1,1397.7 L842.7,1395.5 L848.1,1392.9 L853.2,1389.9 L858.0,1386.3 L862.5,1382.2 L866.7,1377.6 L870.6,1372.6 L874.3,1367.3 L877.8,1361.9 L881.2,1356.3 L884.5,1350.6 L887.7,1345.0 L890.9,1339.3 L893.9,1333.6 L896.9,1327.8 L899.8,1322.1 L902.7,1316.3 L905.4,1310.5 L908.1,1304.6 L910.8,1298.8 L913.4,1292.9 L915.9,1287.0 L918.4,1281.1 L920.8,1275.1 L923.2,1269.2 L925.6,1263.3 L927.9,1257.3 L930.2,1251.3 L932.4,1245.3 L934.7,1239.4 L936.9,1233.4 L939.0,1227.4 L941.2,1221.4 L943.4,1215.4 L945.5,1209.4 L947.6,1203.4 L949.8,1197.4 L951.9,1191.4 L954.0,1185.4 L956.2,1179.4 L958.3,1173.4 L960.5,1167.5 L962.6,1161.5 L964.8,1155.6 L967.0,1149.6 L969.1,1143.7 L971.3,1137.7 L973.5,1131.8 L975.6,1125.8 L977.8,1119.9 L980.0,1113.9 L982.2,1108.0 L984.3,1102.0 L986.5,1096.1 L988.6,1090.1 L990.7,1084.1 L992.9,1078.1 L995.0,1072.1 L997.1,1066.1 L999.1,1060.1 L1001.2,1054.0 L1003.3,1047.9 L1005.3,1041.9 L1007.3,1035.8 L1009.3,1029.6 L1011.2,1023.5 L1013.2,1017.3 L1015.1,1011.2 L1017.0,1005.0 L1018.9,998.7 L1020.7,992.5 L1022.6,986.2 L1024.5,980.0 L1026.5,973.8 L1028.5,967.7 L1030.7,961.6 L1033.1,955.7 L1035.6,949.9 L1038.4,944.2 L1041.4,938.6 L1044.7,933.2 L1048.2,928.0 L1052.1,923.1 L1056.3,918.3 L1060.9,913.8 L1065.9,909.6 L1071.2,905.8 L1076.7,902.4 L1082.3,899.6 L1088.1,897.3 L1094.0,895.8 L1099.9,895.0 L1105.7,895.1 L1111.4,896.1 L1117.0,898.0 L1122.4,900.7 L1127.7,904.0 L1132.8,907.8 L1137.8,912.0 L1142.6,916.4 L1147.3,920.9 L1151.8,925.5 L1156.3,930.1 L1160.5,934.9 L1164.7,939.8 L1168.8,944.7 L1172.7,949.7 L1176.5,954.9 L1180.2,960.0 L1183.8,965.3 L1187.3,970.6 L1190.7,976.0 L1193.9,981.5 L1197.2,987.0 L1200.3,992.5 L1203.3,998.2 L1206.3,1003.8 L1209.2,1009.5 L1212.0,1015.3 L1214.7,1021.1 L1217.4,1026.9 L1220.0,1032.8 L1222.6,1038.6 L1225.1,1044.5 L1227.6,1050.5 L1230.1,1056.4 L1232.5,1062.4 L1234.8,1068.4 L1237.1,1074.3 L1239.5,1080.3 L1241.7,1086.3 L1244.0,1092.3 L1246.2,1098.3 L1248.5,1104.3 L1250.7,1110.3 L1252.9,1116.3 L1255.1,1122.2 L1257.2,1128.2 L1259.4,1134.2 L1261.6,1140.2 L1263.8,1146.2 L1265.9,1152.2 L1268.1,1158.1 L1270.3,1164.1 L1272.4,1170.1 L1274.6,1176.0 L1276.8,1182.0 L1279.0,1187.9 L1281.3,1193.9 L1283.5,1199.8 L1285.8,1205.7 L1288.0,1211.6 L1290.3,1217.5 L1292.7,1223.4 L1295.0,1229.3 L1297.4,1235.2 L1299.8,1241.0 L1302.3,1246.9 L1304.7,1252.7 L1307.3,1258.5 L1309.8,1264.3 L1312.4,1270.1 L1315.1,1275.9 L1317.8,1281.7 L1320.6,1287.4 L1323.4,1293.1 L1326.3,1298.8 L1329.3,1304.4 L1332.4,1310.0 L1335.5,1315.6 L1338.8,1321.1 L1342.1,1326.6 L1345.5,1332.1 L1349.1,1337.5 L1352.7,1342.9 L1356.4,1348.2 L1360.3,1353.5 L1364.3,1358.6 L1368.4,1363.6 L1372.6,1368.6 L1376.9,1373.3 L1381.3,1378.0 L1385.9,1382.4 L1390.6,1386.7 L1395.5,1390.7 L1400.5,1394.6 L1405.6,1398.2 L1410.8,1401.5 L1416.2,1404.6 L1421.8,1407.4 L1427.4,1410.0 L1433.2,1412.3 L1439.1,1414.3 L1445.2,1416.1 L1451.3,1417.7 L1457.5,1419.1 L1463.8,1420.3 L1470.1,1421.3 L1476.5,1422.2 L1482.9,1423.0 L1489.4,1423.6 L1495.9,1424.1 L1502.4,1424.5 L1508.9,1424.8 L1515.4,1425.1 L1521.8,1425.3 L1528.3,1425.4 L1534.7,1425.6 L1541.1,1425.7 L1547.5,1425.7 L1553.8,1425.7 L1560.2,1425.7 L1566.5,1425.7 L1572.8,1425.7 L1579.1,1425.6 L1585.4,1425.6 L1591.8,1425.5 L1598.1,1425.4 L1604.4,1425.3 L1610.7,1425.3 L1617.0,1425.2 L1623.3,1425.1 L1629.7,1425.1 L1636.0,1425.1 L1642.4,1425.1 L1648.8,1425.1 L1655.2,1425.1 L1661.6,1425.2 L1668.1,1425.3 L1674.6,1425.5 L1681.1,1425.7" stroke="#dabec2" stroke-width="5" stroke-dasharray="7 12"/>
</g>
</svg>
</div>
<div id="text">
<svg width="2033" height="1799" viewBox="0 0 2033 1799">
<g id="ticklabels">
<text x="391.50 427.50" y="84.5" font-size="64.5">50</text>
<text x="709.50 740.50 776.50" y="84.5" font-size="64.5">100</text>
<text transform="translate(1074 84.5) scale(0.7433 1)" x="4.00 35.87 71.74" y="0" font-size="64.5">150</text>
<text x="1429.50 1465.50 1501.50" y="84.5" font-size="64.5">200</text>
<text x="1754.50 1789.50 1826.00" y="84.5" font-size="64.5">250</text>
<text x="391.50 427.50" y="1650" font-size="64.5">50</text>
<text x="709.50 740.50 776.50" y="1650" font-size="64.5">100</text>
<text transform="translate(1074 1650) scale(0.7433 1)" x="4.00 35.87 71.74" y="0" font-size="64.5">150</text>
<text x="1429.50 1465.50 1501.50" y="1650" font-size="64.5">200</text>
<text x="1754.50 1789.50 1826.00" y="1650" font-size="64.5">250</text>
</g>
<g id="legendtext">
<text transform="translate(0 254.5) scale(1 1.0263)" x="531.00 573.27 603.66 658.53 679.66 742.97 759.84" y="0" font-size="76">5°C/min</text>
<text transform="translate(0 354.5) scale(1 1.0263)" x="535.50 571.07 610.14 637.34 689.02 706.94 767.04 780.72" y="0" font-size="76">10°C/min</text>
<text transform="translate(0 454.5) scale(1 1.0263)" x="535.50 571.07 610.14 637.34 689.02 706.94 767.04 780.72" y="0" font-size="76">15°C/min</text>
<text transform="translate(0 554.5) scale(1 1.0263)" x="530.00 569.36 608.71 636.20 688.16 706.36 766.75 780.72" y="0" font-size="76">20°C/min</text>
</g>
<text transform="translate(0 1764.2) scale(1 1.0263)" x="861.00 906.00 941.40 998.40 1038.20 1078.30 1101.50 1141.60 1160.00 1200.60 1225.00 1263.90 1283.00 1312.00" y="0" font-size="76" id="xtitle">Temperature/°C</text>
<g id="glyphfix"><rect x="712.7" y="79.0" width="13.0" height="7.5" fill="#fff"/><rect x="731.4" y="79.0" width="12.3" height="7.5" fill="#fff"/><rect x="1079.4" y="79.0" width="9.7" height="7.5" fill="#fff"/><rect x="1093.3" y="79.0" width="9.1" height="7.5" fill="#fff"/><rect x="712.7" y="1644.5" width="13.0" height="7.5" fill="#fff"/><rect x="731.4" y="1644.5" width="12.3" height="7.5" fill="#fff"/><rect x="1079.4" y="1644.5" width="9.7" height="7.5" fill="#fff"/><rect x="1093.3" y="1644.5" width="9.1" height="7.5" fill="#fff"/><rect x="539.3" y="348.0" width="15.4" height="8.5" fill="#fff"/><rect x="561.3" y="348.0" width="14.4" height="8.5" fill="#fff"/><rect x="539.3" y="448.0" width="15.4" height="8.5" fill="#fff"/><rect x="561.3" y="448.0" width="14.4" height="8.5" fill="#fff"/></g>
</svg>
<div class="ylab"><span style="margin:0 -12.89px;transform:scale(0.65,1)">H</span><span style="margin:0 0.75px;transform:scale(0.92,1)">e</span><span style="margin:0 0.75px">a</span><span style="margin:0 8.89px;transform:scale(0.85,1)">t</span><span style="margin:0 10.25px"> </span><span style="margin:0 6.18px;transform:scale(0.85,1)">f</span><span style="margin:0 8.89px;transform:scale(0.85,1)">l</span><span style="margin:0 -2.00px;transform:scale(0.93,1)">o</span><span style="margin:0 -12.89px;transform:scale(0.62,1)">w</span><span style="margin:0 8.89px;transform:scale(1.45,1.22)">/</span><span style="margin:0 6.18px;transform:translate(6px,-9px)">(</span><span style="margin:0 -15.61px;transform:scale(0.6,1)">m</span><span style="margin:0 -23.75px;transform:scale(0.49,1)">W</span><span style="margin:0 8.89px;transform:scale(1.45,1.22)">/</span><span style="margin:0 -15.61px;transform:scale(0.6,1)">m</span><span style="margin:0 -2.00px;transform:scale(0.9,1)">g</span><span style="margin:0 6.18px;transform:translate(-6px,-9px)">)</span></div>
<div class="exo">exo</div>
<div class="arr">↑</div>
</div>
</body>
</html>
